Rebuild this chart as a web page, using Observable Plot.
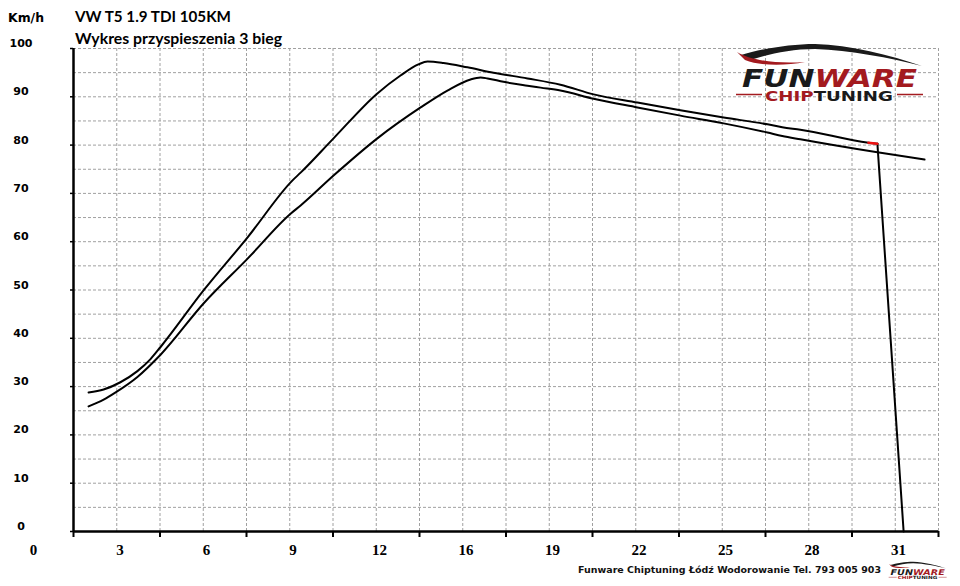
<!DOCTYPE html>
<html>
<head>
<meta charset="utf-8">
<script src="https://cdn.jsdelivr.net/npm/d3@7"></script>
<script src="https://cdn.jsdelivr.net/npm/@observablehq/plot@0.6"></script>
<style>
  html, body { margin: 0; padding: 0; background: #fff; }
  #wrap { position: relative; width: 960px; height: 586px; overflow: hidden; }
  #wrap svg { position: absolute; left: 0; top: 0; }
</style>
</head>
<body>
<div id="wrap"></div>
<script>
// ---- data (time in s, speed in km/h) ----
const tunedTime  = [0.54, 1.08, 1.68, 2.29, 2.76, 3.12, 4.66, 6.24, 7.85, 8.14, 9.32, 10.89, 11.72, 12.36, 12.69, 13.26, 14.12, 15.05, 16.27, 17.45, 18.64, 20.21, 21.75, 23.30, 24.87, 25.40, 26.05, 28.49, 28.81, 29.75];
const tunedSpeed = [28.8, 29.4, 30.9, 33.2, 35.7, 38.2, 49.9, 60.9, 72.7, 74.3, 81.4, 90.7, 94.4, 96.7, 97.3, 97.0, 96.1, 95.0, 93.8, 92.5, 90.5, 88.8, 87.2, 85.7, 84.3, 83.7, 83.2, 80.5, 80.3, 0];
const stockTime  = [0.54, 1.08, 1.51, 2.29, 3.12, 4.66, 6.24, 7.78, 8.14, 9.32, 10.89, 12.44, 13.40, 14.23, 14.59, 14.84, 15.41, 16.27, 16.74, 17.45, 18.64, 20.21, 21.75, 23.30, 24.87, 25.40, 26.05, 28.81, 30.50];
const stockSpeed = [25.9, 27.3, 28.8, 32.0, 36.6, 47.2, 56.5, 65.8, 67.5, 73.7, 81.4, 87.8, 91.3, 93.6, 94.0, 93.8, 93.1, 92.3, 91.9, 91.3, 89.6, 87.8, 86.1, 84.5, 82.6, 81.9, 81.2, 78.5, 77.0];

const timeTicks  = [0, 3.1, 6.2, 9.3, 12.4, 15.5, 18.6, 21.7, 24.8, 27.9, 31];
const timeLabels = ["0", "3", "6", "9", "12", "16", "19", "22", "25", "28", "31"];
const speedTicks  = [0, 10, 20, 30, 40, 50, 60, 70, 80, 90, 100];
const speedLabels = ["0", "10", "20", "30", "40", "50", "60", "70", "80", "90", "100"];
const gridTime  = [1.55, 3.1, 4.65, 6.2, 7.75, 9.3, 10.85, 12.4, 13.95, 15.5, 17.05, 18.6, 20.15, 21.7, 23.25, 24.8, 26.35, 27.9, 29.45, 31];
const gridSpeed = [5, 10, 15, 20, 25, 30, 35, 40, 45, 50, 55, 60, 65, 70, 75, 80, 85, 90, 95, 100];

const tuned = tunedTime.map((t, i) => ({t, v: tunedSpeed[i]}));
const stock = stockTime.map((t, i) => ({t, v: stockSpeed[i]}));
const tunedCurve = tuned.slice(0, -1);
const tunedDrop = tuned.slice(-2);
const cutoff = tuned.slice(-3, -1);

const gridStyle = {stroke: "#a0a0a0", strokeWidth: 1, strokeDasharray: "3,2"};

const chart = Plot.plot({
  width: 960,
  height: 586,
  marginLeft: 73,
  marginRight: 22,
  marginTop: 48,
  marginBottom: 55,
  style: {background: "white", overflow: "visible"},
  x: {domain: [0, 31], axis: null},
  y: {domain: [0, 100], axis: null},
  marks: [
    Plot.ruleX(gridTime, gridStyle),
    Plot.ruleY(gridSpeed, gridStyle),
    Plot.axisX({ticks: timeTicks, tickSize: 6, stroke: "black", strokeWidth: 2, fill: "none", label: null}),
    Plot.axisY({ticks: speedTicks, tickSize: 3, stroke: "black", strokeWidth: 1.5, fill: "none", label: null}),
    Plot.ruleX([0], {stroke: "black", strokeWidth: 2.5}),
    Plot.ruleY([0], {stroke: "black", strokeWidth: 2.5}),
    Plot.text(timeTicks, {x: d => d, text: (d, i) => timeLabels[i], frameAnchor: "bottom", lineAnchor: "bottom", dy: 23, dx: -40,
      fontFamily: "Liberation Serif", fontWeight: "bold", fontSize: 15, fill: "black"}),
    Plot.text(speedTicks, {y: d => d, text: (d, i) => speedLabels[i], frameAnchor: "left", lineAnchor: "bottom", textAnchor: "middle", dx: -52.5, dy: -1.5,
      fontFamily: "DejaVu Sans", fontWeight: "bold", fontSize: 11, fill: "black"}),
    Plot.line(stock, {x: "t", y: "v", stroke: "black", strokeWidth: 2, curve: "monotone-x"}),
    Plot.line(tunedCurve, {x: "t", y: "v", stroke: "black", strokeWidth: 2, curve: "monotone-x"}),
    Plot.line(tunedDrop, {x: "t", y: "v", stroke: "black", strokeWidth: 2}),
    Plot.line(cutoff, {x: "t", y: "v", stroke: "#ee1111", strokeWidth: 2.5})
  ]
});

document.getElementById("wrap").appendChild(chart);

// ---- titles, caption and logo ----
const ns = "http://www.w3.org/2000/svg";
const over = d3.select("#wrap").append("svg")
  .attr("xmlns", ns).attr("width", 960).attr("height", 586)
  .style("pointer-events", "none");

over.append("text").attr("x", 8).attr("y", 22)
  .attr("font-family", "DejaVu Sans").attr("font-weight", "bold").attr("font-size", 12.5)
  .attr("textLength", 36).attr("lengthAdjust", "spacingAndGlyphs")
  .text("Km/h");
over.append("text").attr("x", 75).attr("y", 22)
  .attr("font-family", "Lato").attr("font-weight", "bold").attr("font-size", 14.5)
  .attr("textLength", 156).attr("lengthAdjust", "spacingAndGlyphs")
  .text("VW T5 1.9 TDI 105KM");
over.append("text").attr("x", 75).attr("y", 44)
  .attr("font-family", "Lato").attr("font-weight", "bold").attr("font-size", 14.5)
  .attr("textLength", 207).attr("lengthAdjust", "spacingAndGlyphs")
  .text("Wykres przyspieszenia 3 bieg");
over.append("text").attr("x", 578).attr("y", 573)
  .attr("font-family", "DejaVu Sans").attr("font-weight", "bold").attr("font-size", 9.5)
  .attr("textLength", 303).attr("lengthAdjust", "spacingAndGlyphs")
  .attr("fill", "#111")
  .text("Funware Chiptuning Łódź Wodorowanie Tel. 793 005 903");

function drawLogo(g) {
  // car silhouette
  g.append("path").attr("d", "M741,55 C760,49 790,44 815,44 C850,45 890,55 922,66 C890,58 850,50 815,49 C790,49 770,54 750,60 Z")
    .attr("fill", "#1a1a1a");
  g.append("path").attr("d", "M737,52 C750,60 775,64 805,62 C785,66 760,66 745,60 Z")
    .attr("fill", "#a31a1f");
  const t1 = g.append("text").attr("x", 742).attr("y", 87)
    .attr("font-family", "DejaVu Sans").attr("font-weight", "bold").attr("font-style", "italic")
    .attr("font-size", 25).attr("textLength", 175).attr("lengthAdjust", "spacingAndGlyphs");
  t1.append("tspan").attr("fill", "#1a1a1a").text("FUN");
  t1.append("tspan").attr("fill", "#a31a1f").text("WARE");
  g.append("line").attr("x1", 736).attr("x2", 762).attr("y1", 94.5).attr("y2", 94.5).attr("stroke", "#a31a1f").attr("stroke-width", 1.5);
  g.append("line").attr("x1", 897).attr("x2", 923).attr("y1", 94.5).attr("y2", 94.5).attr("stroke", "#a31a1f").attr("stroke-width", 1.5);
  const t2 = g.append("text").attr("x", 765).attr("y", 100.5)
    .attr("font-family", "DejaVu Sans").attr("font-weight", "bold")
    .attr("font-size", 14).attr("textLength", 128).attr("lengthAdjust", "spacingAndGlyphs");
  t2.append("tspan").attr("fill", "#a31a1f").text("CHIP");
  t2.append("tspan").attr("fill", "#1a1a1a").text("TUNING");
}
drawLogo(over.append("g"));
drawLogo(over.append("g").attr("transform", "translate(660.5,548) scale(0.31)"));
</script>
</body>
</html>
